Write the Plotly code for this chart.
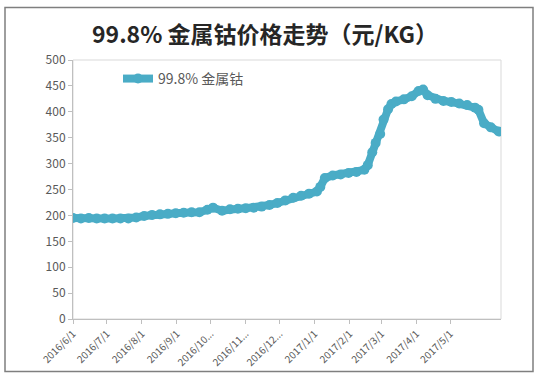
import plotly.graph_objects as go

# ---- data ----
dates = [
    "2016-06-01", "2016-06-08", "2016-06-15", "2016-06-22", "2016-06-29",
    "2016-07-06", "2016-07-13", "2016-07-20", "2016-07-27", "2016-08-03",
    "2016-08-10", "2016-08-17", "2016-08-24", "2016-08-31", "2016-09-07",
    "2016-09-14", "2016-09-21", "2016-09-28", "2016-10-03", "2016-10-11",
    "2016-10-18", "2016-10-25", "2016-11-01", "2016-11-08", "2016-11-15",
    "2016-11-22", "2016-11-29", "2016-12-06", "2016-12-13", "2016-12-20",
    "2016-12-27", "2017-01-03", "2017-01-06", "2017-01-10", "2017-01-17",
    "2017-01-24", "2017-01-31", "2017-02-07", "2017-02-14", "2017-02-17",
    "2017-02-21", "2017-02-24", "2017-02-28", "2017-03-03", "2017-03-07",
    "2017-03-10", "2017-03-14", "2017-03-21", "2017-03-28", "2017-04-03",
    "2017-04-07", "2017-04-11", "2017-04-18", "2017-04-25", "2017-05-02",
    "2017-05-09", "2017-05-16", "2017-05-23", "2017-05-26", "2017-05-31",
    "2017-06-06", "2017-06-13",
]
prices = [
    195, 194, 195, 194, 194,
    194, 194, 194, 196, 199,
    201, 202, 203, 204, 205,
    206, 206, 211, 215, 209,
    212, 213, 214, 215, 217,
    220, 224, 229, 234, 238,
    242, 246, 255, 272, 277,
    279, 282, 284, 288, 297,
    322, 340, 357, 385, 405,
    415, 420, 424, 430, 440,
    443, 432, 425, 421, 419,
    416, 413, 408, 404, 378,
    370, 362,
]
series_name = "99.8% 金属钴"
title_text = "99.8% 金属钴价格走势（元/KG）"
tick_dates = [
    "2016-06-01", "2016-07-01", "2016-08-01", "2016-09-01", "2016-10-01",
    "2016-11-01", "2016-12-01", "2017-01-01", "2017-02-01", "2017-03-01",
    "2017-04-01", "2017-05-01",
]
tick_labels = [
    "2016/6/1", "2016/7/1", "2016/8/1", "2016/9/1", "2016/10...",
    "2016/11...", "2016/12...", "2017/1/1", "2017/2/1", "2017/3/1",
    "2017/4/1", "2017/5/1",
]
y_ticks = [0, 50, 100, 150, 200, 250, 300, 350, 400, 450, 500]

FONT = "Noto Sans CJK SC, Noto Sans, sans-serif"
LINE_COLOR = "#4AACC6"
GRAY_TXT = "#595959"

fig = go.Figure()
fig.add_trace(go.Scatter(
    x=dates, y=prices, name=series_name, mode="lines+markers",
    line=dict(color=LINE_COLOR, width=8),
    marker=dict(symbol="circle", size=10, color=LINE_COLOR),
))

L, R, T, B = 73, 46, 60, 59
W, H = 547, 381
pw = W - L - R
ph = H - T - B

def px(xp):
    return (xp - L) / pw

def py(yp):
    return (H - B - yp) / ph

fig.update_layout(
    width=W, height=H,
    margin=dict(l=L, r=R, t=T, b=B),
    paper_bgcolor="white", plot_bgcolor="white",
    font=dict(family=FONT, color=GRAY_TXT),
    showlegend=True,
    legend=dict(
        x=px(118), y=py(63), xanchor="left", yanchor="top",
        bgcolor="rgba(0,0,0,0)", font=dict(size=14, color=GRAY_TXT),
        itemwidth=30,
    ),
    xaxis=dict(
        type="date", range=["2016-06-01", "2017-06-15"],
        tickmode="array", tickvals=tick_dates, ticktext=tick_labels,
        tickangle=-45, tickfont=dict(size=10, color=GRAY_TXT),
        showgrid=False, zeroline=False,
        showline=True, linecolor="#BFBFBF", linewidth=1,
        ticks="outside", ticklen=4, tickcolor="#BFBFBF",
    ),
    yaxis=dict(
        range=[0, 500], tickmode="array", tickvals=y_ticks,
        tickfont=dict(size=12, color=GRAY_TXT),
        showgrid=False, zeroline=False,
        showline=True, linecolor="#BFBFBF", linewidth=1,
        ticks="outside", ticklen=4, tickcolor="#BFBFBF",
    ),
    shapes=[
        dict(type="rect", xref="paper", yref="paper",
             x0=0, x1=1, y0=0, y1=1,
             line=dict(color="#D9D9D9", width=1), layer="below"),
        dict(type="rect", xref="paper", yref="paper",
             x0=px(5), x1=px(533), y0=py(375), y1=py(7),
             line=dict(color="#7F7F7F", width=1.5), layer="above"),
    ],
    annotations=[
        dict(text="<b>" + title_text + "</b>", xref="paper", yref="paper",
             x=px(265), y=py(33), xanchor="center", yanchor="middle",
             showarrow=False, font=dict(size=23, color="#262626", family=FONT)),
    ],
)

fig.write_html(
    "out.html",
    config={"displayModeBar": False},
    post_script="document.body.style.margin='0';document.body.style.padding='0';",
)
